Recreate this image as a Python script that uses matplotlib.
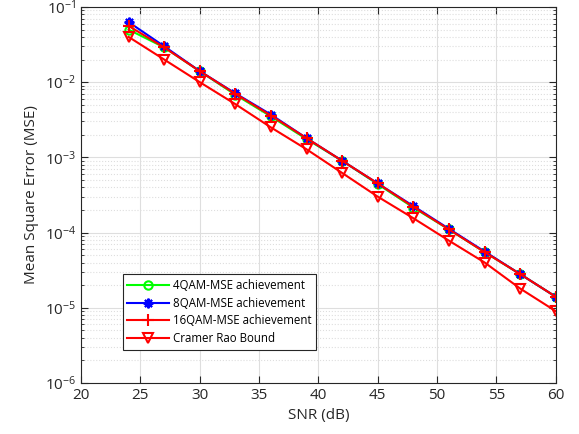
import numpy as np
import matplotlib.pyplot as plt
from matplotlib.ticker import LogLocator, NullFormatter, FixedLocator

plt.rcParams['font.family'] = ['Open Sans', 'DejaVu Sans']

# Dados
snr_db = [24, 27, 30, 33, 36, 39, 42, 45, 48, 51, 54, 57, 60]
mse_4qam = [5.0e-2, 2.9e-2, 1.4e-2, 6.8e-3, 3.5e-3, 1.75e-3, 9.0e-4, 4.4e-4, 2.15e-4, 1.1e-4, 5.5e-5, 2.8e-5, 1.4e-5]
mse_8qam = [6.3e-2, 3.0e-2, 1.4e-2, 7.1e-3, 3.7e-3, 1.8e-3, 9.0e-4, 4.5e-4, 2.25e-4, 1.12e-4, 5.6e-5, 2.8e-5, 1.4e-5]
mse_16qam = [5.6e-2, 2.9e-2, 1.4e-2, 7.0e-3, 3.6e-3, 1.8e-3, 9.0e-4, 4.5e-4, 2.2e-4, 1.1e-4, 5.5e-5, 2.8e-5, 1.4e-5]
crb = [4.0e-2, 2.0e-2, 1.0e-2, 5.1e-3, 2.5e-3, 1.28e-3, 6.2e-4, 3.0e-4, 1.55e-4, 7.8e-5, 4.0e-5, 1.8e-5, 9.0e-6]

fig = plt.figure(figsize=(5.79, 4.34), dpi=100)
ax = fig.add_axes([0.14, 0.1175, 0.82, 0.8665])

ax.semilogy(snr_db, mse_4qam, color='#00ff00', marker='o', markersize=6, mfc='none',
            mew=1.5, linewidth=1.5, label='4QAM-MSE achievement')
ax.semilogy(snr_db, mse_8qam, color='#0000ff', marker=(8, 2, 0), markersize=7, mew=1.5,
            linewidth=1.5, label='8QAM-MSE achievement')
ax.semilogy(snr_db, mse_16qam, color='#ff0000', marker='+', markersize=8, mew=1.5,
            linewidth=1.5, label='16QAM-MSE achievement')
ax.semilogy(snr_db, crb, color='#ff0000', marker='v', markersize=7, mfc='none',
            mew=1.5, linewidth=1.5, label='Cramer Rao Bound')

ax.set_xlim(20, 60)
ax.set_ylim(1e-6, 1e-1)
ax.xaxis.set_major_locator(FixedLocator(np.arange(20, 61, 5)))
ax.yaxis.set_major_locator(LogLocator(base=10, numticks=10))
ax.yaxis.set_minor_locator(LogLocator(base=10, subs=np.arange(2, 10), numticks=20))
ax.yaxis.set_minor_formatter(NullFormatter())

ax.grid(True, which='major', color='#dedede', linestyle='-', linewidth=0.8)
ax.grid(True, which='minor', axis='y', color='#dedede', linestyle=':', linewidth=0.8)
ax.set_axisbelow(True)

ax.tick_params(which='both', direction='in', top=True, right=True, labelsize=11, colors='#262626')
ax.tick_params(which='major', length=5)
ax.tick_params(which='minor', length=2.5)
for s in ax.spines.values():
    s.set_color('#262626')
    s.set_linewidth(0.8)

ax.set_xlabel('SNR (dB)', fontsize=11, color='#262626')
ax.set_ylabel('Mean Square Error (MSE)', fontsize=11, color='#262626')

leg = ax.legend(loc='lower left', bbox_to_anchor=(0.088, 0.088), fontsize=8.3,
                fancybox=False, framealpha=1, edgecolor='#262626',
                handlelength=3.6, handletextpad=0.35, borderpad=0.4,
                labelspacing=0.42, borderaxespad=0)
leg.get_frame().set_linewidth(0.8)

fig.savefig('out.png', dpi=100)
